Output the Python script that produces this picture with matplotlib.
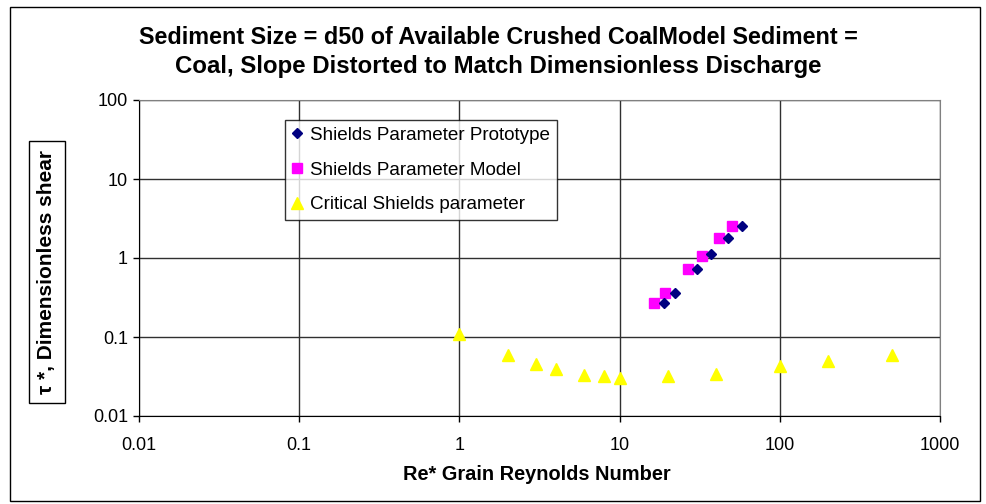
# Shields diagram: prototype vs model vs critical curve
import matplotlib.pyplot as plt
from matplotlib.patches import Rectangle

plt.rcParams['font.family'] = ['Liberation Sans', 'DejaVu Sans']

# data
re_proto = [18.8, 22.2, 30.6, 37.2, 47.7, 57.8]
tau_proto = [0.272, 0.356, 0.73, 1.11, 1.80, 2.52]

re_model = [16.5, 19.2, 26.6, 32.7, 42.0, 50.5]
tau_model = [0.272, 0.364, 0.716, 1.07, 1.80, 2.57]

re_crit = [1, 2, 3, 4, 6, 8, 10, 20, 40, 100, 200, 500]
tau_crit = [0.108, 0.059, 0.045, 0.039, 0.0335, 0.032, 0.030, 0.032, 0.0337, 0.043, 0.050, 0.059]

x_ticks = [0.01, 0.1, 1, 10, 100, 1000]
x_labels = ['0.01', '0.1', '1', '10', '100', '1000']
y_ticks = [0.01, 0.1, 1, 10, 100]
y_labels = ['0.01', '0.1', '1', '10', '100']

fig = plt.figure(figsize=(9.87, 5.04), dpi=100)
ax = fig.add_axes([139/987, 1 - 416/504, (940 - 139)/987, (416 - 100)/504])

ax.set_xscale('log')
ax.set_yscale('log')
ax.set_xlim(0.01, 1000)
ax.set_ylim(0.01, 100)
ax.set_xticks(x_ticks, x_labels)
ax.set_yticks(y_ticks, y_labels)
ax.minorticks_off()
ax.tick_params(labelsize=13, length=4.3, width=1, color='black')
ax.tick_params(axis='x', pad=11)
ax.tick_params(axis='y', pad=3.6)
ax.grid(True, color='#303030', linewidth=1)
ax.set_axisbelow(True)
for s in ax.spines.values():
    s.set_color('#808080')
ax.spines['left'].set_color('black')
ax.spines['bottom'].set_color('black')

ax.plot(re_proto, tau_proto, 'D', color='#000080', ms=5.3, mec='#000080',
        label='Shields Parameter Prototype', zorder=4)
ax.plot(re_model, tau_model, 's', color='#FF00FF', ms=7.2, mec='#FF00FF',
        label='Shields Parameter Model', zorder=3)
ax.plot(re_crit, tau_crit, '^', color='#FFFF00', ms=8, mec='#FFFF00',
        label='Critical Shields parameter', zorder=3)

leg = ax.legend(loc='upper left', bbox_to_anchor=((285 - 139)/801, 1 - (120 - 100)/316),
                fontsize=13.6, frameon=True, fancybox=False, handlelength=0.6,
                handletextpad=0.4, borderpad=0.35, labelspacing=0.93, borderaxespad=0)
leg.get_frame().set_edgecolor('black')
leg.get_frame().set_linewidth(1)

fig.text(498/987, 1 - 37/504, 'Sediment Size = d50 of Available Crushed CoalModel Sediment =',
         ha='center', va='center', fontsize=16.8, fontweight='bold')
fig.text(498/987, 1 - 67/504, 'Coal, Slope Distorted to Match Dimensionless Discharge',
         ha='center', va='center', fontsize=17.3, fontweight='bold')

fig.text(537/987, 1 - 474/504, 'Re* Grain Reynolds Number', ha='center', va='center',
         fontsize=14.4, fontweight='bold')

fig.text(47/987, 1 - 272/504, 'τ *, Dimensionless shear', ha='center', va='center',
         rotation=90, fontsize=15, fontweight='bold',
         bbox=dict(boxstyle='square,pad=0.42', fc='white', ec='black', lw=1))

# outer chart border
fig.patches.append(Rectangle((10/987, 3/504), 970/987, 494/504, transform=fig.transFigure,
                             fill=False, ec='black', lw=1))

fig.savefig('out.png', dpi=100)
